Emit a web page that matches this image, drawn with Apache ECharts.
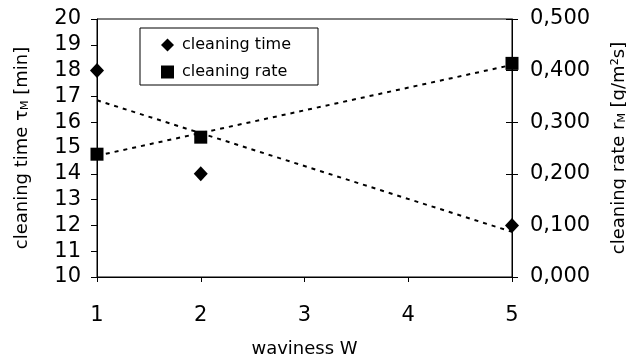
<!DOCTYPE html>
<html>
<head>
<meta charset="utf-8">
<script src="https://cdn.jsdelivr.net/npm/echarts@6/dist/echarts.min.js"></script>
<style>
  html, body { margin: 0; padding: 0; background: #fff; }
  #chart { width: 626px; height: 360px; }
</style>
</head>
<body>
<div id="chart"></div>
<script>
// waviness W
const waviness = [1, 2, 5];
// cleaning time (left axis, min)
const cleaningTime = [18, 14, 12];
// cleaning rate (right axis, g/m2s)
const cleaningRate = [0.238, 0.271, 0.414];
// dashed trend lines, ends at W = 1 and W = 5
const trendX = [1, 5];
const timeTrend = [16.85, 11.75];
const rateTrend = [0.235, 0.411];

const FONT = "DejaVu Sans";
const black = "#000";

const chart = echarts.init(document.getElementById("chart"), null, { renderer: "canvas" });

const pairs = (xs, ys) => xs.map((x, i) => [x, ys[i]]);

const nameRich = {
  t: { fontFamily: FONT, fontSize: 18, color: black, lineHeight: 20, verticalAlign: "bottom" },
  s: { fontFamily: FONT, fontSize: 11, color: black, lineHeight: 16, verticalAlign: "bottom" }
};

const option = {
  backgroundColor: "#fff",
  animation: false,
  textStyle: { fontFamily: FONT, color: black },
  grid: {
    left: 97, right: 114, top: 19, bottom: 83,
    outerBoundsMode: "none",
    containLabel: false,
    show: true, borderColor: black, borderWidth: 1
  },
  legend: {
    data: [
      { name: "cleaning time", icon: "diamond" },
      { name: "cleaning rate", icon: "rect" }
    ],
    orient: "vertical",
    left: 140, top: 28,
    padding: [9, 27, 5, 21],
    itemWidth: 13, itemHeight: 13,
    itemGap: 11,
    borderColor: black, borderWidth: 1,
    itemStyle: { opacity: 1 },
    textStyle: { fontFamily: FONT, fontSize: 16, color: black, padding: [0, 0, 0, 3] }
  },
  xAxis: {
    type: "value",
    min: 1, max: 5, interval: 1,
    name: "waviness W",
    nameLocation: "middle",
    nameGap: 63,
    nameTextStyle: { fontFamily: FONT, fontSize: 18, color: black },
    axisLine: { show: true, lineStyle: { color: black, width: 1 } },
    axisTick: { show: true, length: 5, lineStyle: { color: black } },
    axisLabel: { fontFamily: FONT, fontSize: 21, color: black, margin: 28 },
    splitLine: { show: false }
  },
  yAxis: [
    {
      type: "value",
      position: "left",
      min: 10, max: 20, interval: 1,
      name: "{t|cleaning time τ}{s|M}{t| [min]}",
      nameLocation: "middle",
      nameRotate: 90,
      nameGap: 66,
      nameTextStyle: { rich: nameRich },
      axisLine: { show: true, lineStyle: { color: black, width: 1 } },
      axisTick: { show: true, length: 6, lineStyle: { color: black } },
      axisLabel: { fontFamily: FONT, fontSize: 21, color: black, margin: 16 },
      splitLine: { show: false }
    },
    {
      type: "value",
      position: "right",
      min: 0, max: 0.5, interval: 0.1,
      name: "{t|cleaning rate r}{s|M}{t| [g/m²s]}",
      nameLocation: "middle",
      nameRotate: 90,
      nameGap: 96,
      nameTextStyle: { rich: nameRich },
      axisLine: { show: true, onZero: false, lineStyle: { color: black, width: 1 } },
      axisTick: { show: true, length: 6, lineStyle: { color: black } },
      axisLabel: {
        fontFamily: FONT, fontSize: 21, color: black, margin: 18,
        formatter: v => v.toFixed(3).replace(".", ",")
      },
      splitLine: { show: false }
    },
    {
      // inner half of the right axis ticks (they cross the axis)
      type: "value",
      position: "right",
      min: 0, max: 0.5, interval: 0.1,
      axisLine: { show: false },
      axisTick: { show: true, inside: true, length: 6, lineStyle: { color: black } },
      axisLabel: { show: false },
      splitLine: { show: false }
    }
  ],
  series: [
    {
      name: "time trend",
      type: "line",
      yAxisIndex: 0,
      data: pairs(trendX, timeTrend),
      showSymbol: false,
      silent: true,
      lineStyle: { color: black, width: 2, type: [4, 5] },
      z: 1
    },
    {
      name: "rate trend",
      type: "line",
      yAxisIndex: 1,
      data: pairs(trendX, rateTrend),
      showSymbol: false,
      silent: true,
      lineStyle: { color: black, width: 2, type: [4, 5] },
      z: 1
    },
    {
      name: "cleaning time",
      type: "scatter",
      yAxisIndex: 0,
      symbol: "diamond",
      symbolSize: [14, 15],
      itemStyle: { color: black, opacity: 1 },
      data: pairs(waviness, cleaningTime),
      z: 3
    },
    {
      name: "cleaning rate",
      type: "scatter",
      yAxisIndex: 1,
      symbol: "rect",
      symbolSize: 13,
      itemStyle: { color: black, opacity: 1 },
      data: pairs(waviness, cleaningRate),
      z: 3
    }
  ]
};

chart.setOption(option);
</script>
</body>
</html>
